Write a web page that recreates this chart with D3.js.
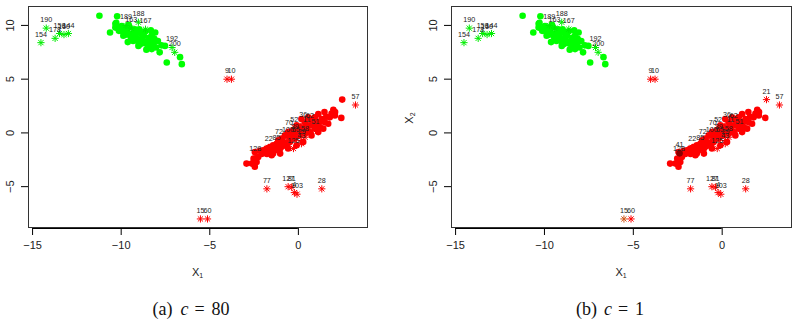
<!DOCTYPE html>
<html>
<head>
<meta charset="utf-8">
<script src="https://cdn.jsdelivr.net/npm/d3@7"></script>
<style>
  body { margin: 0; background: #fff; }
  svg { display: block; }
</style>
</head>
<body>
<svg id="chart" width="798" height="335"></svg>
<script>
// green group, plain points (pch 19)
var greenX = [-11.2,-10.2,-10.3,-10.3,-10.6,-10.0,-9.9,-9.85,-9.75,-9.6,-9.4,-9.3,-9.2,-9.1,-9.0,-8.9,-8.8,-8.7,-8.6,-8.5,-8.45,-8.35,-8.25,-8.15,-8.05,-8.25,-7.9,-7.8,-7.5,-7.4,-6.65,-6.55,-9.0,-9.6,
              -9.95,-9.5,-9.2,-8.95,-8.8,-8.65,-8.4,-8.3,-8.1,-8.0,-9.7,-9.45,-9.75,-10.1,-9.3,-8.55,-8.9,-9.1,-8.2,-7.7,-10.25,-9.55];
var greenY = [10.85,10.8,10.1,9.75,9.3,9.75,9.4,9.0,9.6,9.3,8.7,9.2,9.6,8.8,8.4,9.3,8.7,9.0,9.4,8.5,8.05,8.4,9.0,8.2,9.3,7.75,8.5,7.45,8.05,6.5,7.0,6.35,8.05,8.4,
              9.9,9.8,9.0,9.6,9.1,8.3,8.8,9.5,8.7,7.9,9.1,8.95,9.35,9.45,8.5,7.7,8.2,9.35,8.0,8.1,10.2,10.0];

// green group, flagged points (pch 8) with their labels
var greenStarX = [-14.5,-14.2,-13.7,-13.45,-13.2,-12.95,-9.7,-9.4,-9.0,-8.6,-7.1,-6.95];
var greenStarY = [8.35,9.7,8.75,9.2,9.1,9.2,9.95,9.7,10.25,9.6,7.9,7.45];
var greenStarLab = ["154","190","178","159","160","144","189","163","188","167","192","200"];

// red group, plain points
var redX = [2.5,2.0,2.1,2.45,1.5,1.15,1.35,1.05,0.75,0.7,0.4,0.95,0.2,-0.07,-0.26,-0.55,-0.73,-0.92,-1.1,-1.2,-1.4,-1.58,-1.77,-1.96,-1.67,-1.4,-1.3,-1.0,-0.73,-0.45,-0.17,0.1,0.4,0.68,1.24,1.52,1.8,
            -2.43,-2.5,-2.9,-2.6,-2.43,-2.33,-2.24,-1.86,-1.48,-1.0,-0.55,-0.07,0.3,0.77,1.15,1.43,1.71,2.09,0.4,0.11,-0.26,-0.45,0.02,0.49,0.96,0.58,0.3,-0.83,-1.2,-1.58,
            1.9,1.6,1.3,0.85,0.55,0.15,-0.35,-0.65,-0.95,-1.25,-1.5,-1.75,-2.05,-2.15,1.0,0.25,-0.6,-0.9];
var redY = [3.05,2.1,1.9,1.35,1.9,1.7,1.25,0.95,1.25,0.65,0.35,0.35,1.25,0.65,0.2,0.03,-0.28,-0.58,-0.74,-1.05,-1.2,-1.36,-1.5,-1.67,-1.82,-1.97,-1.67,-1.5,-1.2,-0.9,-0.58,-0.28,-0.12,0.03,0.5,0.95,1.4,
            -1.82,-2.44,-2.9,-2.9,-3.2,-2.75,-2.29,-1.82,-2.13,-1.97,-1.5,-1.2,-0.9,-0.28,0.03,0.35,0.8,1.57,0.95,0.5,-0.28,-0.43,0.03,0.65,1.4,1.4,0.35,-0.9,-1.36,-1.82,
            1.75,1.45,1.05,0.7,0.1,-0.05,-0.2,-0.95,-1.2,-1.5,-1.6,-2.0,-2.0,-1.7,0.6,0.2,-1.1,-1.3];

// red group, flagged points with labels
var redStarX = [-4.0,-3.75,3.25,-5.5,-5.1,-1.75,-0.55,-0.35,-0.2,-0.05,1.35,-0.25,0.2,-2.4,
                -0.2,0.3,0.68,0.5,1.0,-0.5,-0.17,-0.56,-0.1,0.4,0.22,-1.65,-1.2,-1.07];
var redStarY = [4.95,4.95,2.55,-8.05,-8.05,-5.25,-5.05,-5.1,-5.6,-5.75,-5.25,-1.5,-1.05,-2.25,
                0.45,0.85,0.75,0.37,0.2,0.1,-0.2,-0.55,-0.55,-0.45,-0.75,-1.4,-1.3,-0.75];
var redStarLab = ["9","10","57","15","60","77","127","81","4","103","28","125","43","128",
                  "52","36","62","11","51","70","39","100","65","58","29","22","85","72"];

// panel (b) only: extra flagged point and a dark point
var extraStarX = [2.52], extraStarY = [3.05], extraStarLab = ["21"];
var darkX = [-2.37], darkY = [-1.95], darkLab = ["41"];

var xTicks = [-15, -10, -5, 0];
var yTicks = [-5, 0, 5, 10];
var captions = ["(a)", "(b)"];
var cValues = ["80", "1"];

var SANS = "Liberation Sans, Arial, sans-serif";
var svg = d3.select("#chart");

function star(g, x, y, col){
  var r = 3.6, d = r * 0.72;
  var s = g.append("g").attr("transform", "translate(" + x + "," + y + ")")
    .attr("stroke", col).attr("stroke-width", 1);
  s.append("line").attr("x1", -r).attr("x2", r);
  s.append("line").attr("y1", -r).attr("y2", r);
  s.append("line").attr("x1", -d).attr("y1", -d).attr("x2", d).attr("y2", d);
  s.append("line").attr("x1", -d).attr("y1", d).attr("x2", d).attr("y2", -d);
}

function label(g, x, y, txt){
  g.append("text").attr("x", x).attr("y", y - 6)
    .attr("text-anchor", "middle")
    .attr("font-family", SANS)
    .attr("font-size", 7.2).attr("fill", "#222")
    .text(txt);
}

function minus(d){ return d < 0 ? "\u2212" + (-d) : d; }

function panel(left, right, idx){
  var x = d3.scaleLinear().domain([-15.23, 3.9]).range([left, right]);
  var y = d3.scaleLinear().domain([-8.8, 11.76]).range([227, 6]);
  var g = svg.append("g");

  // points
  g.selectAll(null).data(d3.range(greenX.length)).join("circle")
    .attr("cx", function(i){ return x(greenX[i]); })
    .attr("cy", function(i){ return y(greenY[i]); })
    .attr("r", 3.3).attr("fill", "#00ff00");

  var rx = redX.slice(), ry = redY.slice();
  if (idx == 1) { rx.shift(); ry.shift(); }
  g.selectAll(null).data(d3.range(rx.length)).join("circle")
    .attr("cx", function(i){ return x(rx[i]); })
    .attr("cy", function(i){ return y(ry[i]); })
    .attr("r", 3.3).attr("fill", "#ff0000");

  greenStarX.forEach(function(v, i){
    star(g, x(v), y(greenStarY[i]), "#00ee00");
  });
  redStarX.forEach(function(v, i){
    var col = (idx == 1 && redStarLab[i] == "15") ? "#d0581a" : "#ff0000";
    star(g, x(v), y(redStarY[i]), col);
  });
  if (idx == 1) {
    extraStarX.forEach(function(v, i){ star(g, x(v), y(extraStarY[i]), "#ff0000"); });
    darkX.forEach(function(v, i){
      g.append("circle").attr("cx", x(v)).attr("cy", y(darkY[i])).attr("r", 3.3).attr("fill", "#8b0000");
    });
  }

  // labels
  greenStarX.forEach(function(v, i){ label(g, x(v), y(greenStarY[i]), greenStarLab[i]); });
  redStarX.forEach(function(v, i){ label(g, x(v), y(redStarY[i]), redStarLab[i]); });
  if (idx == 1) {
    extraStarX.forEach(function(v, i){ label(g, x(v), y(extraStarY[i]), extraStarLab[i]); });
    darkX.forEach(function(v, i){ label(g, x(v), y(darkY[i]), darkLab[i]); });
  }

  // box
  g.append("rect").attr("x", left + 0.5).attr("y", 6.5)
    .attr("width", right - left).attr("height", 221)
    .attr("fill", "none").attr("stroke", "#333");

  // axes
  var ax = g.append("g").attr("transform", "translate(0,228)")
    .call(d3.axisBottom(x).tickValues(xTicks).tickSize(7).tickPadding(6).tickFormat(minus));
  ax.select(".domain").attr("d", "M" + x(-15) + ",0.5H" + x(0));
  ax.selectAll("text").attr("font-size", 11).attr("font-family", SANS).attr("fill", "#222");

  var ay = g.append("g").attr("transform", "translate(" + left + ",0)")
    .call(d3.axisLeft(y).tickValues(yTicks).tickSize(7).tickFormat(minus));
  ay.select(".domain").remove();
  ay.selectAll("text").attr("font-size", 11).attr("font-family", SANS).attr("fill", "#222")
    .attr("text-anchor", "middle").attr("x", 0).attr("y", 0).attr("dy", "0")
    .attr("transform", "translate(-14,0) rotate(-90)");

  // axis titles
  var xt = g.append("text").attr("x", (left + right) / 2).attr("y", 276)
    .attr("text-anchor", "middle").attr("font-family", SANS)
    .attr("font-size", 11).attr("fill", "#222");
  xt.append("tspan").text("X");
  xt.append("tspan").attr("font-size", 7).attr("dy", 2).text("1");

  if (idx == 1) {
    var yt = g.append("text").attr("transform", "translate(" + (left - 38) + ",118) rotate(-90)")
      .attr("text-anchor", "middle").attr("font-family", SANS)
      .attr("font-size", 11).attr("fill", "#222");
    yt.append("tspan").text("X");
    yt.append("tspan").attr("font-size", 7).attr("dy", 2).text("2");
  }

  // caption, laid out piece by piece like LaTeX math spacing
  var c0 = (left + right) / 2 - 45;
  var parts = [[captions[idx], 0, "normal"], ["c", 28, "italic"], ["=", 42, "normal"], [cValues[idx], 59, "normal"]];
  parts.forEach(function(p){
    g.append("text").attr("x", c0 + p[1]).attr("y", 315)
      .attr("font-family", "Liberation Serif, Times New Roman, serif")
      .attr("font-size", 18).attr("font-style", p[2]).attr("fill", "#111")
      .text(p[0]);
  });
}

panel(28, 367, 0);
panel(451, 791, 1);
</script>
</body>
</html>
